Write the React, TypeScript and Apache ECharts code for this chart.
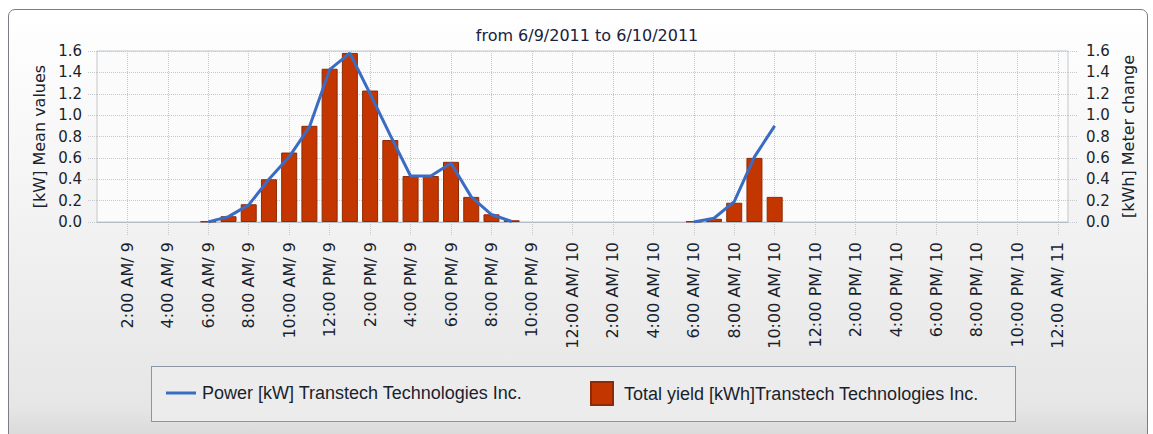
import React, { useEffect, useRef } from "react";
import * as echarts from "echarts";

// ---- data (hours counted from 6/9/2011 00:00) ----
const powerDay9Hours = [6, 7, 8, 9, 10, 11, 12, 13, 14, 15, 16, 17, 18, 19, 20, 21];
const powerDay9Values = [0.0, 0.05, 0.16, 0.4, 0.61, 0.89, 1.425, 1.58, 1.2, 0.81, 0.43, 0.43, 0.55, 0.235, 0.07, 0.005];
const powerDay10Hours = [30, 31, 32, 33, 34];
const powerDay10Values = [0.0, 0.035, 0.19, 0.61, 0.9];

const yieldHours = [6, 7, 8, 9, 10, 11, 12, 13, 14, 15, 16, 17, 18, 19, 20, 21, 30, 31, 32, 33, 34];
const yieldValues = [0.005, 0.054, 0.166, 0.4, 0.65, 0.9, 1.434, 1.582, 1.23, 0.767, 0.43, 0.43, 0.563, 0.235, 0.072, 0.016, 0.005, 0.03, 0.18, 0.6, 0.235];

const xTickHours = [2, 4, 6, 8, 10, 12, 14, 16, 18, 20, 22, 24, 26, 28, 30, 32, 34, 36, 38, 40, 42, 44, 46, 48];
const xTickLabels = [
  "2:00 AM/ 9", "4:00 AM/ 9", "6:00 AM/ 9", "8:00 AM/ 9", "10:00 AM/ 9", "12:00 PM/ 9",
  "2:00 PM/ 9", "4:00 PM/ 9", "6:00 PM/ 9", "8:00 PM/ 9", "10:00 PM/ 9", "12:00 AM/ 10",
  "2:00 AM/ 10", "4:00 AM/ 10", "6:00 AM/ 10", "8:00 AM/ 10", "10:00 AM/ 10", "12:00 PM/ 10",
  "2:00 PM/ 10", "4:00 PM/ 10", "6:00 PM/ 10", "8:00 PM/ 10", "10:00 PM/ 10", "12:00 AM/ 11",
];
const xMin = 0.5;
const xMax = 48.5;
const yMin = 0;
const yMax = 1.6;
const yInterval = 0.2;

const titleText = "from 6/9/2011 to 6/10/2011";
const powerName = "Power [kW] Transtech Technologies Inc.";
const yieldName = "Total yield [kWh]Transtech Technologies Inc.";
const leftAxisName = "[kW] Mean values";
const rightAxisName = "[kWh] Meter change";

const FONT = "'DejaVu Sans', Verdana, sans-serif";
const LEGEND_FONT = "'Liberation Sans', Arial, sans-serif";
const TEXT = "#1a1f2e";

export default function App() {
  const ref = useRef<HTMLDivElement>(null);

  useEffect(() => {
    if (!ref.current) return;
    const chart = echarts.init(ref.current, undefined, { renderer: "svg" });

    const powerData: any[] = [];
    powerDay9Hours.forEach((h, i) => powerData.push([h, powerDay9Values[i]]));
    powerData.push([(powerDay9Hours[powerDay9Hours.length - 1] + powerDay10Hours[0]) / 2, null]);
    powerDay10Hours.forEach((h, i) => powerData.push([h, powerDay10Values[i]]));

    const yieldData = yieldHours.map((h, i) => [h, yieldValues[i]]);

    const dotted = { color: "#c4c8cc", type: "dotted" as const, width: 1 };

    const yAxisCommon = {
      type: "value" as const,
      min: yMin,
      max: yMax,
      interval: yInterval,
      nameLocation: "middle" as const,
      nameRotate: 90,
      nameGap: 50,
      nameTextStyle: { fontFamily: FONT, fontSize: 16, color: TEXT },
      axisLine: { show: false },
      axisTick: { show: true, length: 10, lineStyle: dotted },
      axisLabel: {
        fontFamily: FONT,
        fontSize: 15,
        color: TEXT,
        formatter: (v: number) => v.toFixed(1),
      },
    };

    chart.setOption({
      animation: false,
      title: {
        text: titleText,
        left: 587,
        top: 27,
        padding: 0,
        textAlign: "center",
        textStyle: { fontFamily: FONT, fontSize: 16, fontWeight: "normal", color: "#1a2040" },
      },
      legend: [
        {
          data: [powerName],
          left: 161,
          top: 379,
          icon: "rect",
          itemWidth: 30,
          itemHeight: 3,
          textStyle: { fontFamily: LEGEND_FONT, fontSize: 18, color: TEXT, padding: [0, 0, 0, 1] },
        },
        {
          data: [yieldName],
          left: 585,
          top: 376,
          icon: "rect",
          itemWidth: 22,
          itemHeight: 23,
          textStyle: { fontFamily: LEGEND_FONT, fontSize: 18, color: TEXT, padding: [0, 0, 0, 6] },
        },
      ],
      grid: {
        left: 97,
        right: 85,
        top: 51,
        bottom: 212,
        show: true,
        backgroundColor: "#fbfbfb",
        borderColor: "#c3c9cf",
        borderWidth: 1,
      },
      xAxis: {
        type: "value",
        min: xMin,
        max: xMax,
        axisLine: { show: true, lineStyle: { color: "#b4bcc4", width: 1 } },
        axisTick: { show: true, length: 13, customValues: xTickHours, lineStyle: dotted },
        splitLine: { show: true, lineStyle: dotted },
        axisLabel: {
          customValues: xTickHours,
          rotate: 90,
          margin: 20,
          fontFamily: FONT,
          fontSize: 16,
          color: TEXT,
          formatter: (v: number) => {
            const i = xTickHours.indexOf(v);
            return i >= 0 ? xTickLabels[i] : "";
          },
        },
      },
      yAxis: [
        {
          ...yAxisCommon,
          position: "left",
          name: leftAxisName,
          splitLine: { show: true, lineStyle: dotted },
          axisLabel: { ...yAxisCommon.axisLabel, margin: 15 },
        },
        {
          ...yAxisCommon,
          position: "right",
          name: rightAxisName,
          splitLine: { show: false },
          axisLabel: { ...yAxisCommon.axisLabel, margin: 18 },
        },
      ],
      series: [
        {
          name: yieldName,
          type: "bar",
          yAxisIndex: 1,
          barWidth: 16,
          data: yieldData,
          itemStyle: { color: "#c43600", borderColor: "#8e2a08", borderWidth: 1 },
          z: 2,
        },
        {
          name: powerName,
          type: "line",
          yAxisIndex: 0,
          data: powerData,
          symbol: "none",
          connectNulls: false,
          lineStyle: { color: "#3a6cc4", width: 3 },
          itemStyle: { color: "#3a6cc4" },
          z: 3,
        },
      ],
    });

    return () => chart.dispose();
  }, []);

  return (
    <div style={{ position: "fixed", left: 0, top: 0, width: 1153, height: 434, background: "#ffffff", overflow: "hidden" }}>
      <div
        style={{
          position: "absolute",
          left: 8,
          top: 9,
          width: 1138,
          height: 440,
          border: "1px solid #7a7e84",
          borderRadius: 7,
          background: "linear-gradient(to bottom, #ffffff 0%, #f6f6f6 35%, #e6e6e6 90%, #d4d4d4 100%)",
        }}
      />
      <div
        style={{
          position: "absolute",
          left: 151,
          top: 366,
          width: 863,
          height: 54,
          border: "1px solid #8a96a2",
          background: "#ececec",
        }}
      />
      <div ref={ref} style={{ position: "absolute", left: 0, top: 0, width: 1153, height: 434 }} />
    </div>
  );
}
